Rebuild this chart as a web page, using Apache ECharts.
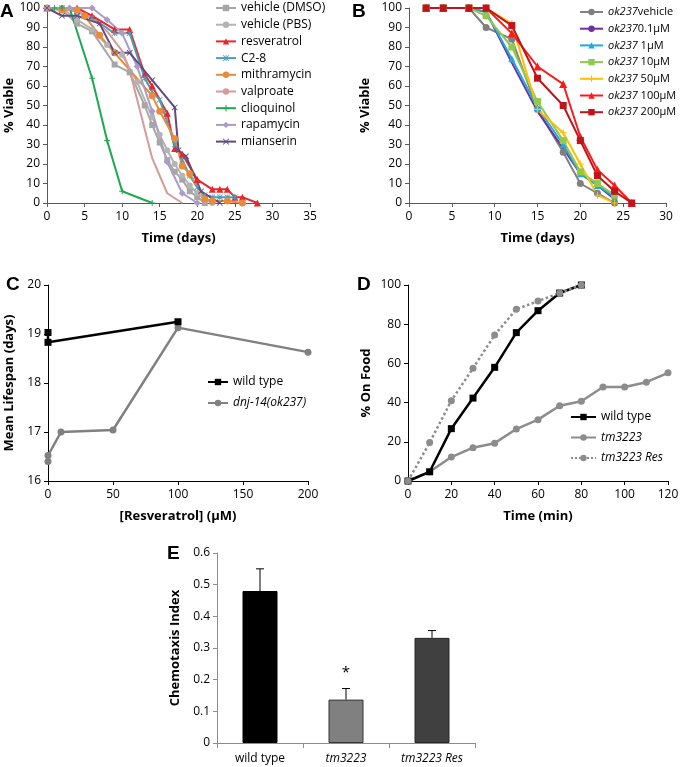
<!DOCTYPE html>
<html>
<head>
<meta charset="utf-8">
<title>Lifespan and chemotaxis panels</title>
<script src="https://cdn.jsdelivr.net/npm/echarts@6.0.0/dist/echarts.min.js"></script>
<style>
  html, body { margin: 0; padding: 0; background: #fff; }
  #main { width: 683px; height: 767px; }
</style>
</head>
<body>
<div id="main"></div>
<script>
// ---- panel A: survival curves, [day, % viable]
const aDmso = [[0,100],[2,99],[4,92],[6,88],[9,71],[11,67],[13,50],[14,40],[15,31],[16,22],[17,16],[18,12],[19,6],[20,3],[21,0]];
const aPbs = [[0,100],[2,100],[4,94],[6,89],[8,81],[10,76],[12,62],[14,44],[15,35],[16,27],[17,20],[18,14],[19,9],[20,5],[21,2],[22,0]];
const aResveratrol = [[0,100],[2,100],[4,100],[6,96],[9,89],[11,89],[13,66],[14,60],[16,46],[17,28],[18,25],[20,12],[22,7],[23,7],[24,7],[25,3],[26,3],[28,0]];
const aC28 = [[0,100],[2,100],[4,98],[6,95],[9,87],[11,87],[13,64],[14,57],[15,53],[17,30],[18,22],[19,14],[20,8],[21,4],[22,3],[23,3],[24,3],[25,3]];
const aMithramycin = [[0,100],[2,99],[4,99],[5,96],[7,86],[9,77],[14,55],[15,47],[17,33],[18,19],[19,15],[21,2],[22,1],[24,1],[26,0]];
const aValproate = [[0,100],[2,100],[4,98],[6,95],[8,88],[10,78],[11,68],[14,23],[16,5],[18,0]];
const aClioquinol = [[0,100],[1,100],[2,100],[3,100],[6,64],[8,32],[10,6],[14,0]];
const aRapamycin = [[0,100],[3,100],[6,100],[8,94],[10,87],[12,70],[14,47],[16,21],[18,5],[20,0]];
const aMianserin = [[0,100],[2,96],[4,96],[7,92],[9,77],[11,77],[14,63],[17,49],[17.5,27],[18.5,24],[20.5,6],[23,0]];

// ---- panel B: ok237 survival, [day, % viable]
const bVehicle = [[2,100],[4,100],[7,100],[9,90],[12,84],[15,48],[18,26],[20,10],[22,5],[24,0]];
const b01uM = [[2,100],[4,100],[7,100],[9,98],[12,72],[15,47],[18,28],[20,15],[22,9],[24,2]];
const b1uM = [[2,100],[4,100],[7,100],[9,98],[12,74],[15,49],[18,30],[20,15],[22,9],[24,3]];
const b10uM = [[2,100],[4,100],[7,100],[9,96],[12,80],[15,52],[18,32],[20,16],[22,10],[24,4]];
const b50uM = [[2,100],[4,100],[7,100],[9,100],[12,92],[15,48],[18,36],[20,20],[22,4],[24,0]];
const b100uM = [[2,100],[4,100],[7,100],[9,100],[12,87],[15,70],[18,61],[20,34],[22,17],[24,9],[26,0]];
const b200uM = [[2,100],[4,100],[7,100],[9,100],[12,91],[15,64],[18,50],[20,32],[22,14],[24,6],[26,0]];

// ---- panel C: mean lifespan vs dose
const cWildDose = [0, 0, 100];
const cWildLife = [19.03, 18.83, 19.25];
const cDnjDose = [0, 0, 10, 50, 100, 200];
const cDnjLife = [16.4, 16.52, 17.0, 17.04, 19.13, 18.63];

// ---- panel D: % on food over time
const dTime = [0, 10, 20, 30, 40, 50, 60, 70, 80, 90, 100, 110, 120];
const dWild = [0, 4.7, 26.7, 42.3, 58, 75.7, 86.9, 95.9, 100];
const dTm3223 = [0, 4.7, 12.2, 17, 19.3, 26.5, 31.3, 38.4, 40.7, 48, 48, 50.4, 55.2];
const dTm3223Res = [0, 19.6, 41, 57.5, 74.5, 87.6, 91.8, 95.9, 100];

// ---- panel E: chemotaxis index
const eCategories = ['wild type', 'tm3223', 'tm3223 Res'];
const eMeans = [0.48, 0.137, 0.332];
const eErrors = [0.07, 0.035, 0.023];
const eSigMarks = ['', '*', ''];

const FONT = '"Open Sans", "Noto Sans", sans-serif';
const pair = (xs, ys) => ys.map((y, i) => [xs[i], y]);

const chart = echarts.init(document.getElementById('main'));

// X / asterisk shaped markers (Excel style)
const xMark = 'path://M1,0L5,4L9,0L10,1L6,5L10,9L9,10L5,6L1,10L0,9L4,5L0,1Z';
const starMark = xMark + 'M4.4,0h1.2v10h-1.2Z';
const plusMark = 'path://M4.2,0h1.6v10h-1.6ZM0,4.2h10v1.6h-10Z';

function line(name, data, color, symbol, idx, extra) {
  return Object.assign({
    name: name,
    type: 'line',
    xAxisIndex: idx,
    yAxisIndex: idx,
    data: data,
    symbol: symbol || 'none',
    showSymbol: !!symbol,
    symbolSize: 6,
    color: color,
    lineStyle: { width: 2, color: color },
    itemStyle: { color: color },
    animation: false
  }, extra || {});
}

function valueAxis(idx, min, max, interval, name, gap, color) {
  return {
    type: 'value', gridIndex: idx, min: min, max: max, interval: interval,
    name: name, nameLocation: 'middle', nameGap: gap,
    nameTextStyle: { fontFamily: FONT, fontSize: 13, fontWeight: 'bold', color: '#000' },
    axisLine: { show: true, lineStyle: { color: color, width: 1 } },
    axisTick: { show: true, length: 4, lineStyle: { color: color } },
    axisLabel: { color: '#000', fontFamily: FONT, fontSize: 12, margin: 7 },
    splitLine: { show: false }
  };
}

function xLabels(axis) {
  axis.axisLabel = { color: '#000', fontFamily: FONT, fontSize: 12, margin: 8 };
  return axis;
}

function legendBlock(names, left, top, itemWidth, gap, size, rich, formatter) {
  return {
    orient: 'vertical', left: left, top: top, padding: 0,
    data: names, itemWidth: itemWidth, itemHeight: 8, itemGap: gap,
    selectedMode: false,
    textStyle: { fontFamily: FONT, fontSize: size, color: '#000', lineHeight: 14, rich: rich || {} },
    formatter: formatter
  };
}

const italic = size => ({ i: { fontFamily: FONT, fontSize: size, fontStyle: 'italic', color: '#000' } });

const option = {
  backgroundColor: '#fff',
  animation: false,
  grid: [
    { left: 47, top: 8, width: 263, height: 195 },
    { left: 409, top: 8, width: 257, height: 195 },
    { left: 48, top: 285, width: 260, height: 196 },
    { left: 408, top: 285, width: 260, height: 196 },
    { left: 217, top: 553, width: 258, height: 190 }
  ],
  xAxis: [
    xLabels(valueAxis(0, 0, 35, 5, 'Time (days)', 29, '#595959')),
    xLabels(valueAxis(1, 0, 30, 5, 'Time (days)', 29, '#595959')),
    xLabels(valueAxis(2, 0, 200, 50, '[Resveratrol] (μM)', 29, '#000')),
    xLabels(valueAxis(3, 0, 120, 20, 'Time (min)', 29, '#000')),
    {
      type: 'category', gridIndex: 4, data: eCategories,
      axisLine: { show: true, lineStyle: { color: '#8c8c8c' } },
      axisTick: { show: true, length: 5, lineStyle: { color: '#8c8c8c' } },
      axisLabel: {
        interval: 0,
        fontFamily: FONT, fontSize: 12, color: '#000', margin: 10,
        formatter: v => v === 'wild type' ? v : '{i|' + v + '}',
        rich: italic(12)
      }
    }
  ],
  yAxis: [
    valueAxis(0, 0, 100, 10, '% Viable', 31, '#595959'),
    valueAxis(1, 0, 100, 10, '% Viable', 37, '#595959'),
    valueAxis(2, 16, 20, 1, 'Mean Lifespan (days)', 32, '#000'),
    valueAxis(3, 0, 100, 20, '% On Food', 35, '#000'),
    valueAxis(4, 0, 0.6, 0.1, 'Chemotaxis Index', 35, '#8c8c8c')
  ],
  legend: [
    legendBlock(['vehicle (DMSO)', 'vehicle (PBS)', 'resveratrol', 'C2-8', 'mithramycin', 'valproate', 'clioquinol', 'rapamycin', 'mianserin'],
      215, 1, 20, 2.7, 12),
    legendBlock(['ok237vehicle', 'ok2370.1μM', 'ok237 1μM', 'ok237 10μM', 'ok237 50μM', 'ok237 100μM', 'ok237 200μM'],
      579, 5, 23, 2.7, 11, italic(11), n => '{i|ok237}' + n.slice(5)),
    legendBlock(['wild type', 'dnj-14(ok237)'], 207, 375, 20, 7, 12, italic(12),
      n => n === 'wild type' ? n : '{i|' + n + '}'),
    legendBlock(['wild type', 'tm3223', 'tm3223 Res'], 570, 410, 25, 6.5, 12, italic(12),
      n => n === 'wild type' ? n : '{i|' + n + '}')
  ],
  graphic: [
    { type: 'text', left: 0, top: 2, style: { text: 'A', font: 'bold 19px "Liberation Sans", Arial', fill: '#000' } },
    { type: 'text', left: 352, top: 2, style: { text: 'B', font: 'bold 19px "Liberation Sans", Arial', fill: '#000' } },
    { type: 'text', left: 6, top: 275, style: { text: 'C', font: 'bold 19px "Liberation Sans", Arial', fill: '#000' } },
    { type: 'text', left: 357, top: 275, style: { text: 'D', font: 'bold 19px "Liberation Sans", Arial', fill: '#000' } },
    { type: 'text', left: 167, top: 544, style: { text: 'E', font: 'bold 19px "Liberation Sans", Arial', fill: '#000' } }
  ],
  series: [
    // A
    line('vehicle (DMSO)', aDmso, '#a6a6a6', 'rect', 0),
    line('vehicle (PBS)', aPbs, '#b4b4b4', 'circle', 0),
    line('resveratrol', aResveratrol, '#e8262a', 'triangle', 0, { symbolSize: 7 }),
    line('C2-8', aC28, '#4a9fb5', starMark, 0),
    line('mithramycin', aMithramycin, '#e98a3c', 'circle', 0, { symbolSize: 7 }),
    line('valproate', aValproate, '#d69a98', null, 0),
    line('clioquinol', aClioquinol, '#1fa84f', plusMark, 0, { symbolSize: 6 }),
    line('rapamycin', aRapamycin, '#ab9cc6', 'diamond', 0, { symbolSize: 7 }),
    line('mianserin', aMianserin, '#5e4a80', xMark, 0),
    // B
    line('ok237vehicle', bVehicle, '#808080', 'circle', 1, { symbolSize: 7 }),
    line('ok2370.1μM', b01uM, '#7030a0', null, 1),
    line('ok237 1μM', b1uM, '#22a8e0', 'triangle', 1, { symbolSize: 7 }),
    line('ok237 10μM', b10uM, '#92c84f', 'rect', 1, { symbolSize: 7 }),
    line('ok237 50μM', b50uM, '#ffc000', plusMark, 1, { symbolSize: 7 }),
    line('ok237 100μM', b100uM, '#ff1a1a', 'triangle', 1, { symbolSize: 8 }),
    line('ok237 200μM', b200uM, '#c0141c', 'rect', 1, { symbolSize: 7 }),
    // C
    line('dnj-14(ok237)', pair(cDnjDose, cDnjLife), '#808080', 'circle', 2, { symbolSize: 7, lineStyle: { width: 2.5, color: '#808080' } }),
    line('wild type', pair(cWildDose, cWildLife), '#000000', 'rect', 2, { symbolSize: 7, lineStyle: { width: 2.5, color: '#000' } }),
    // D
    line('tm3223', pair(dTime, dTm3223), '#8c8c8c', 'circle', 3, { symbolSize: 7, lineStyle: { width: 2.5, color: '#8c8c8c' } }),
    line('wild type', pair(dTime, dWild), '#000000', 'rect', 3, { symbolSize: 7, lineStyle: { width: 2.5, color: '#000' } }),
    line('tm3223 Res', pair(dTime, dTm3223Res), '#8c8c8c', 'circle', 3, { symbolSize: 7, lineStyle: { width: 2.5, color: '#8c8c8c', type: 'dotted' } }),
    // E
    {
      type: 'bar', xAxisIndex: 4, yAxisIndex: 4, barWidth: 35,
      data: eMeans.map((v, i) => ({
        value: v,
        itemStyle: [
          { color: '#000000', borderColor: '#000000', borderWidth: 1 },
          { color: '#808080', borderColor: '#333333', borderWidth: 1 },
          { color: '#404040', borderColor: '#262626', borderWidth: 1 }
        ][i]
      }))
    },
    {
      type: 'custom', xAxisIndex: 4, yAxisIndex: 4,
      data: eMeans.map((v, i) => [i, v, v + eErrors[i]]),
      renderItem: function (params, api) {
        const base = api.coord([api.value(0), api.value(1)]);
        const top = api.coord([api.value(0), api.value(2)]);
        const children = [
          { type: 'line', shape: { x1: base[0], y1: base[1], x2: top[0], y2: top[1] }, style: { stroke: '#000', lineWidth: 1 } },
          { type: 'line', shape: { x1: top[0] - 4, y1: top[1], x2: top[0] + 4, y2: top[1] }, style: { stroke: '#000', lineWidth: 1 } }
        ];
        const mark = eSigMarks[params.dataIndex];
        if (mark) {
          children.push({
            type: 'text', x: top[0], y: top[1] - 16,
            style: { text: mark, fill: '#000', font: '15px ' + FONT, align: 'center', verticalAlign: 'middle' }
          });
        }
        return { type: 'group', children: children };
      }
    }
  ]
};

chart.setOption(option);
</script>
</body>
</html>
